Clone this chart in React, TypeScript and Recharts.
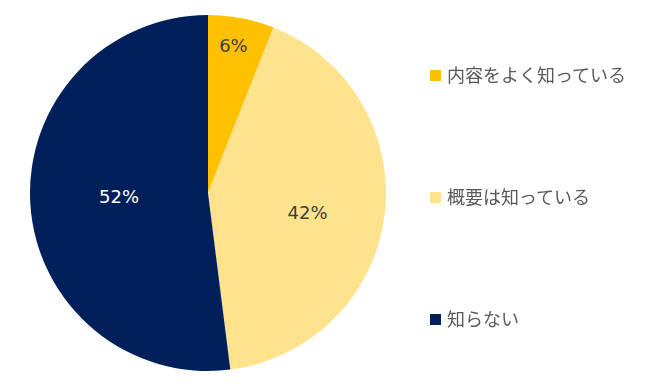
import { PieChart, Pie, Cell, Legend } from "recharts";

const categories = ["内容をよく知っている", "概要は知っている", "知らない"];
const shares = [6, 42, 52];

const colors = ["#FFC000", "#FFE38C", "#011F5B"];
const labelColors = ["#404040", "#404040", "#FFFFFF"];
// label placement: share of the radius and a small angle nudge (degrees)
const labelRadius = [0.84, 0.57, 0.5];
const labelNudge = [1, -4, -1.6];

const data = categories.map((name, i) => ({ name, value: shares[i] }));

const font = '"Noto Sans CJK JP", "Noto Sans", sans-serif';

const renderLabel = (props: any) => {
  const { cx, cy, midAngle, outerRadius, index, value } = props;
  const rad = (Math.PI / 180) * (midAngle + labelNudge[index]);
  const r = outerRadius * labelRadius[index];
  const x = cx + r * Math.cos(rad);
  const y = cy - r * Math.sin(rad);
  return (
    <text
      x={x}
      y={y}
      fill={labelColors[index]}
      fontSize={18}
      fontFamily='"DejaVu Sans", sans-serif'
      textAnchor="middle"
      dominantBaseline="central"
    >
      {value}%
    </text>
  );
};

const renderLegend = () => (
  <div style={{ fontFamily: font }}>
    {categories.map((c, i) => (
      <div
        key={c}
        style={{ height: 122, display: "flex", alignItems: "flex-start" }}
      >
        <span
          style={{
            display: "inline-block",
            width: 11,
            height: 11,
            background: colors[i],
            marginTop: 8,
            marginRight: 6,
          }}
        />
        <span style={{ fontSize: 18, color: "#595959", lineHeight: "24px" }}>{c}</span>
      </div>
    ))}
  </div>
);

export default function App() {
  return (
    <div style={{ position: "fixed", left: 0, top: 0, background: "#fff" }}>
      <PieChart width={650} height={390}>
        <Pie
          data={data}
          dataKey="value"
          nameKey="name"
          cx={203}
          cy={188}
          outerRadius={178}
          startAngle={90}
          endAngle={-270}
          stroke="none"
          label={renderLabel}
          labelLine={false}
          isAnimationActive={false}
        >
          {data.map((d, i) => (
            <Cell key={d.name} fill={colors[i]} />
          ))}
        </Pie>
        <Legend
          content={renderLegend}
          wrapperStyle={{ position: "absolute", left: 430, top: 62, width: 220 }}
        />
      </PieChart>
    </div>
  );
}
